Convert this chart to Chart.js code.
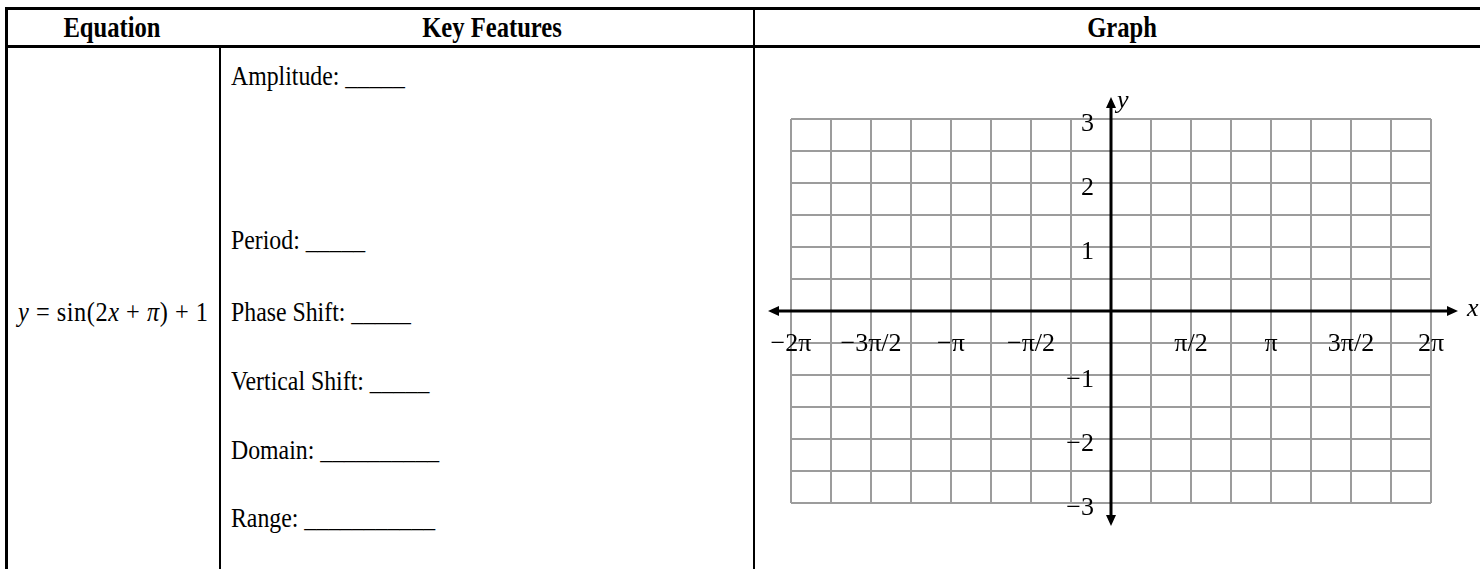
<!DOCTYPE html>
<html>
<head>
<meta charset="utf-8">
<script src="https://cdn.jsdelivr.net/npm/chart.js@4.4.1/dist/chart.umd.min.js"></script>
<style>
  html, body { margin:0; padding:0; background:#fff; }
  body { width:1480px; height:569px; overflow:hidden; position:relative; font-family:'Liberation Serif','Times New Roman',serif; color:#000; }
  .ln { position:absolute; background:#000; }
  .hd { position:absolute; top:12px; font-weight:bold; font-size:30px; line-height:30px; white-space:nowrap; transform:translateX(-50%) scaleX(0.82); transform-origin:50% 0; }
  .kf { position:absolute; left:231px; font-size:28px; line-height:28px; white-space:nowrap; transform:scaleX(0.85); transform-origin:0 0; }
  #eq { position:absolute; left:18px; top:298px; font-size:28px; line-height:28px; white-space:nowrap; letter-spacing:0.6px; transform:scaleX(0.87); transform-origin:0 0; }
  #chartWrap { position:absolute; left:760px; top:90px; width:720px; height:460px; }
</style>
</head>
<body>
<!-- table lines -->
<div class="ln" style="left:5px;top:7px;width:1475px;height:3px"></div>
<div class="ln" style="left:5px;top:45px;width:1475px;height:3px"></div>
<div class="ln" style="left:5px;top:7px;width:3px;height:562px"></div>
<div class="ln" style="left:219px;top:46px;width:2px;height:523px"></div>
<div class="ln" style="left:753px;top:7px;width:2px;height:562px"></div>

<div class="hd" style="left:112px">Equation</div>
<div class="hd" style="left:492px">Key Features</div>
<div class="hd" style="left:1122px">Graph</div>

<div id="eq"><i>y</i> = sin(2<i>x</i> + <i>π</i>) + 1</div>

<div id="kfBox"></div>

<div id="chartWrap"><canvas id="c" width="720" height="460"></canvas></div>

<script>
// ---- data ----
const featureLabels = ['Amplitude:', 'Period:', 'Phase Shift:', 'Vertical Shift:', 'Domain:', 'Range:'];
const featureBlanks = ['_____', '_____', '_____', '_____', '__________', '___________'];
const xTickValues = [-2, -1.5, -1, -0.5, 0.5, 1, 1.5, 2];            // in units of π
const xTickLabels = ['−2π', '−3π/2', '−π', '−π/2', 'π/2', 'π', '3π/2', '2π'];
const yTickValues = [3, 2, 1, -1, -2, -3];
const yTickLabels = ['3', '2', '1', '−1', '−2', '−3'];
const xRange = [-2, 2];      // units of π
const yRange = [-3, 3];
const xGridStep = 0.25;      // π/4
const yGridStep = 0.5;
const plotPoints = [];       // blank graph (to be sketched by student)

// key features text
const kfTops = [62, 226, 298, 367, 436, 504];
const box = document.getElementById('kfBox');
featureLabels.forEach((t, i) => {
  const d = document.createElement('div');
  d.className = 'kf';
  d.style.top = kfTops[i] + 'px';
  d.textContent = t + ' ' + featureBlanks[i];
  box.appendChild(d);
});

const axesPlugin = {
  id: 'axesPlugin',
  afterDraw(chart) {
    const ctx = chart.ctx;
    const xs = chart.scales.x, ys = chart.scales.y;
    const ca = chart.chartArea;
    const x0 = xs.getPixelForValue(0), y0 = ys.getPixelForValue(0);
    ctx.save();
    ctx.strokeStyle = '#000';
    ctx.fillStyle = '#000';
    ctx.lineWidth = 3;
    const xl = ca.left - 23, xr = ca.right + 27;
    const yt = ca.top - 22, yb = ca.bottom + 23;
    ctx.beginPath();
    ctx.moveTo(xl + 6, y0); ctx.lineTo(xr - 6, y0);
    ctx.moveTo(x0, yt + 6); ctx.lineTo(x0, yb - 6);
    ctx.stroke();
    const L = 11, W = 5;
    ctx.beginPath();
    ctx.moveTo(xr, y0); ctx.lineTo(xr - L, y0 - W); ctx.lineTo(xr - L, y0 + W); ctx.closePath();
    ctx.moveTo(xl, y0); ctx.lineTo(xl + L, y0 - W); ctx.lineTo(xl + L, y0 + W); ctx.closePath();
    ctx.moveTo(x0, yt); ctx.lineTo(x0 - W, yt + L); ctx.lineTo(x0 + W, yt + L); ctx.closePath();
    ctx.moveTo(x0, yb); ctx.lineTo(x0 - W, yb - L); ctx.lineTo(x0 + W, yb - L); ctx.closePath();
    ctx.fill();

    ctx.font = '26px "Liberation Serif"';
    ctx.textBaseline = 'middle';
    ctx.textAlign = 'center';
    const yLab = ys.getPixelForValue(-0.5) + 1;
    xTickValues.forEach((v, i) => {
      ctx.fillText(xTickLabels[i], xs.getPixelForValue(v), yLab);
    });
    ctx.textAlign = 'right';
    yTickValues.forEach((v, i) => {
      ctx.fillText(yTickLabels[i], x0 - 17, ys.getPixelForValue(v) + 5);
    });
    ctx.font = 'italic 26px "Liberation Serif"';
    ctx.textAlign = 'left';
    ctx.fillText('x', xr + 9, y0 - 2);
    ctx.fillText('y', x0 + 6, yt + 4);
    ctx.restore();
  }
};

new Chart(document.getElementById('c'), {
  type: 'scatter',
  data: { datasets: [{ data: plotPoints, showLine: true, borderColor: '#000', pointRadius: 0 }] },
  options: {
    responsive: false,
    animation: false,
    devicePixelRatio: 1,
    layout: { padding: { left: 31, right: 49, top: 29, bottom: 47 } },
    plugins: { legend: { display: false }, tooltip: { enabled: false } },
    scales: {
      x: {
        type: 'linear', min: xRange[0], max: xRange[1],
        ticks: { display: false, stepSize: xGridStep },
        grid: { color: '#9c9c9c', lineWidth: 2, drawTicks: false, tickLength: 0 },
        border: { display: false }
      },
      y: {
        type: 'linear', min: yRange[0], max: yRange[1],
        ticks: { display: false, stepSize: yGridStep },
        grid: { color: '#9c9c9c', lineWidth: 2, drawTicks: false, tickLength: 0 },
        border: { display: false }
      }
    }
  },
  plugins: [axesPlugin]
});
</script>
</body>
</html>
